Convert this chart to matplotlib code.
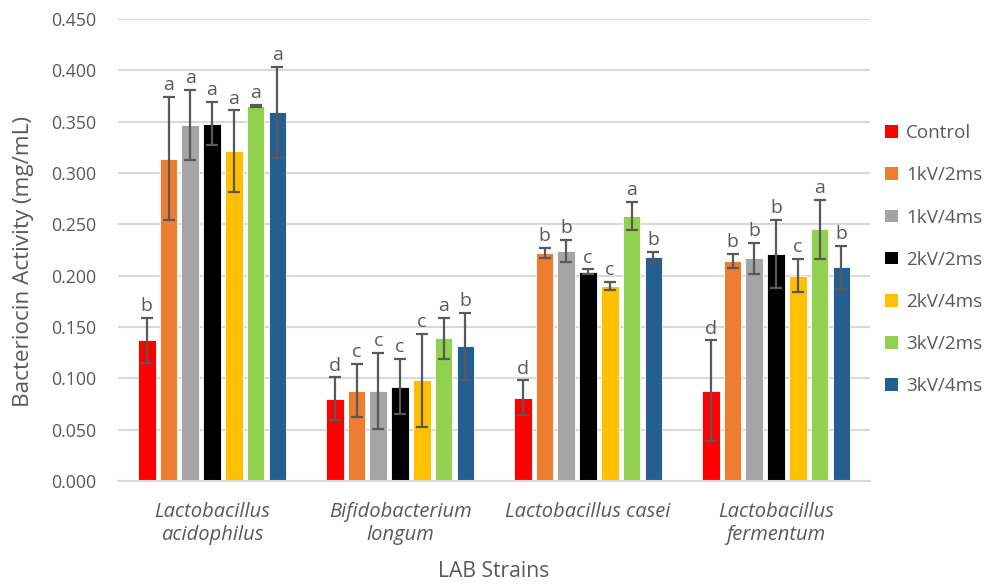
import matplotlib
matplotlib.use("Agg")
import matplotlib.pyplot as plt
from matplotlib.patches import Patch
import numpy as np

plt.rcParams['font.family'] = ['Open Sans', 'DejaVu Sans']

strains = ["Lactobacillus\nacidophilus", "Bifidobacterium\nlongum",
           "Lactobacillus casei", "Lactobacillus\nfermentum"]
treatments = ["Control", "1kV/2ms", "1kV/4ms", "2kV/2ms", "2kV/4ms", "3kV/2ms", "3kV/4ms"]
colors = ["#ff0000", "#ed7d31", "#a5a5a5", "#000000", "#ffc000", "#92d050", "#255e91"]

# mean activity per treatment, one value per strain
control = [0.137, 0.080, 0.081, 0.088]
kv1_2ms = [0.314, 0.088, 0.222, 0.214]
kv1_4ms = [0.347, 0.088, 0.224, 0.217]
kv2_2ms = [0.348, 0.092, 0.204, 0.221]
kv2_4ms = [0.321, 0.098, 0.190, 0.200]
kv3_2ms = [0.365, 0.139, 0.258, 0.245]
kv3_4ms = [0.359, 0.131, 0.218, 0.208]

# standard deviations
control_sd = [0.022, 0.021, 0.017, 0.049]
kv1_2ms_sd = [0.060, 0.026, 0.005, 0.007]
kv1_4ms_sd = [0.034, 0.037, 0.011, 0.015]
kv2_2ms_sd = [0.021, 0.027, 0.002, 0.033]
kv2_4ms_sd = [0.040, 0.045, 0.004, 0.016]
kv3_2ms_sd = [0.001, 0.020, 0.014, 0.029]
kv3_4ms_sd = [0.044, 0.033, 0.005, 0.021]

# significance letters
control_sig = ["b", "d", "d", "d"]
kv1_2ms_sig = ["a", "c", "b", "b"]
kv1_4ms_sig = ["a", "c", "b", "b"]
kv2_2ms_sig = ["a", "c", "c", "b"]
kv2_4ms_sig = ["a", "c", "c", "c"]
kv3_2ms_sig = ["a", "a", "a", "a"]
kv3_4ms_sig = ["a", "b", "b", "b"]

means = [control, kv1_2ms, kv1_4ms, kv2_2ms, kv2_4ms, kv3_2ms, kv3_4ms]
sds = [control_sd, kv1_2ms_sd, kv1_4ms_sd, kv2_2ms_sd, kv2_4ms_sd, kv3_2ms_sd, kv3_4ms_sd]
sigs = [control_sig, kv1_2ms_sig, kv1_4ms_sig, kv2_2ms_sig, kv2_4ms_sig, kv3_2ms_sig, kv3_4ms_sig]

text_color = "#595959"
grid_color = "#d9d9d9"

fig = plt.figure(figsize=(9.87, 5.86), dpi=100)
ax = fig.add_axes([0.1196, 0.1792, 0.7619, 0.7884])

x = np.arange(len(strains))
pitch = 0.1158
width = 0.094
n = len(treatments)

for i, (name, col) in enumerate(zip(treatments, colors)):
    pos = x + (i - (n - 1) / 2) * pitch
    ax.bar(pos, means[i], width, color=col, edgecolor="white", linewidth=0.6,
           label=name, zorder=2)
    ax.errorbar(pos, means[i], yerr=sds[i], fmt="none", ecolor=text_color,
                elinewidth=1.6, capsize=4.5, capthick=1.6, zorder=3)
    for p, m, s, lab in zip(pos, means[i], sds[i], sigs[i]):
        ax.annotate(lab, (p, m + s), xytext=(0, 2), textcoords="offset points",
                    ha="center", va="bottom", fontsize=14, color=text_color)

ax.set_xlim(-0.5, len(strains) - 0.5)
ax.set_ylim(0, 0.45)
ax.set_yticks(np.arange(0, 0.451, 0.05))
ax.set_yticklabels([f"{v:.3f}" for v in np.arange(0, 0.451, 0.05)])
ax.set_xticks(x)
ax.set_xticklabels(strains, fontstyle="italic", fontsize=14.5)
ax.tick_params(axis="both", length=0, colors=text_color)
ax.tick_params(axis="y", labelsize=12.8, pad=16)
ax.tick_params(axis="x", pad=15)

ax.yaxis.grid(True, color=grid_color, linewidth=1.5, zorder=0)
ax.set_axisbelow(True)
for side in ["left", "right", "top"]:
    ax.spines[side].set_visible(False)
ax.spines["bottom"].set_color(grid_color)
ax.spines["bottom"].set_linewidth(1.5)

ax.set_ylabel("Bacteriocin Activity (mg/mL)", fontsize=16.2, color=text_color)
ax.yaxis.set_label_coords(-0.112, 0.474)
ax.set_xlabel("LAB Strains", fontsize=15.2, color=text_color, labelpad=12)

handles = [Patch(facecolor=c, edgecolor="none") for c in colors]
fig.legend(handles, treatments, loc="upper left", bbox_to_anchor=(0.897, 0.788),
           frameon=False, fontsize=13.6, handlelength=0.65, handleheight=0.65,
           handletextpad=0.45, labelspacing=1.28, labelcolor=text_color,
           borderaxespad=0, borderpad=0)

fig.savefig("out.png", dpi=100)
